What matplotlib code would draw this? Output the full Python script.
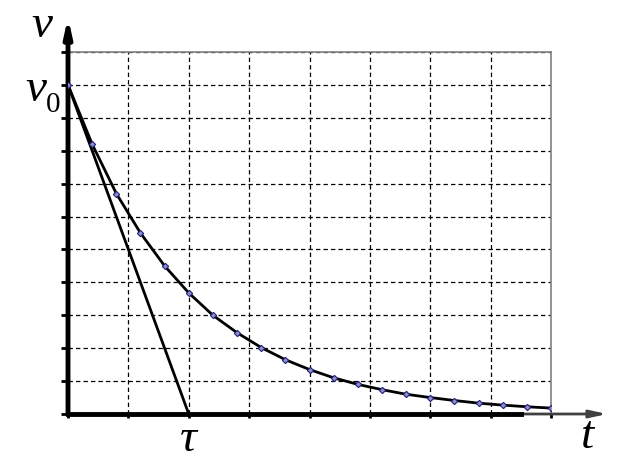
import matplotlib.pyplot as plt

# readings (grid units: t in 0..8, v in 0..11)
t_points = [0.0, 0.4, 0.8, 1.2, 1.6, 2.0, 2.4, 2.8, 3.2, 3.6, 4.0,
            4.4, 4.8, 5.2, 5.6, 6.0, 6.4, 6.8, 7.2, 7.6, 8.0]
v_points = [10.0, 8.2, 6.7, 5.5, 4.5, 3.68, 3.0, 2.47, 2.02, 1.65, 1.35,
            1.1, 0.9, 0.74, 0.6, 0.5, 0.41, 0.33, 0.27, 0.22, 0.18]
tangent_t = [0.0, 2.0]
tangent_v = [10.0, 0.0]
v0 = 10
tau = 2

fig = plt.figure(figsize=(6.19, 4.65), dpi=100)
ax = fig.add_axes([68 / 619, 51 / 465, 483 / 619, 362 / 465])
ax.set_xlim(0, 8)
ax.set_ylim(0, 11)

# dashed grid
ax.set_xticks(range(0, 9))
ax.set_yticks(range(0, 12))
ax.grid(True, color='black', linestyle=(0, (3.5, 2.5)), linewidth=0.9)
ax.tick_params(axis='y', direction='out', length=5, width=2, color='black',
               labelleft=False)
ax.tick_params(axis='x', direction='out', length=3, width=2, color='black',
               labelbottom=False)

for side in ['top', 'right']:
    ax.spines[side].set_color('#808080')
    ax.spines[side].set_linewidth(1.2)
ax.spines['left'].set_visible(False)
ax.spines['bottom'].set_visible(False)

# curve and tangent
ax.plot(t_points, v_points, color='black', linewidth=2, zorder=3)
ax.plot(t_points, v_points, linestyle='none', marker='D', markersize=3.2,
        markerfacecolor='#9090c8', markeredgecolor='#202080',
        markeredgewidth=0.8, zorder=4)
ax.plot(tangent_t, tangent_v, color='black', linewidth=2, zorder=3)

# axes with arrows
ax.plot([0, 7.5], [0, 0], color='black', linewidth=3.5, clip_on=False, zorder=5)
ax.annotate('', xy=(8.93, 0), xytext=(7.45, 0), annotation_clip=False,
            arrowprops=dict(arrowstyle='-|>,head_length=1.0,head_width=0.22',
                            color='#404040', linewidth=2, shrinkA=0, shrinkB=0))
ax.annotate('', xy=(0, 12.06), xytext=(0, 0), annotation_clip=False,
            arrowprops=dict(arrowstyle='-|>,head_length=1.0,head_width=0.22',
                            color='black', linewidth=3.5, shrinkA=0, shrinkB=0))

# labels
serif = 'Liberation Serif'
ax.text(-0.43, 11.8, 'v', fontsize=34, style='italic', family=serif,
        ha='center', va='center', clip_on=False)
ax.text(-0.36, v0 - 0.15, 'v', fontsize=34, style='italic', family=serif,
        ha='right', va='center', clip_on=False)
ax.text(-0.37, v0 - 0.6, '0', fontsize=21, family=serif,
        ha='left', va='center', clip_on=False)
ax.text(tau, -0.78, r'τ', fontsize=34, style='italic', family=serif,
        ha='center', va='center', clip_on=False)
ax.text(8.6, -0.7, 't', fontsize=34, style='italic', family=serif,
        ha='center', va='center', clip_on=False)

fig.savefig('out.png', dpi=100)
